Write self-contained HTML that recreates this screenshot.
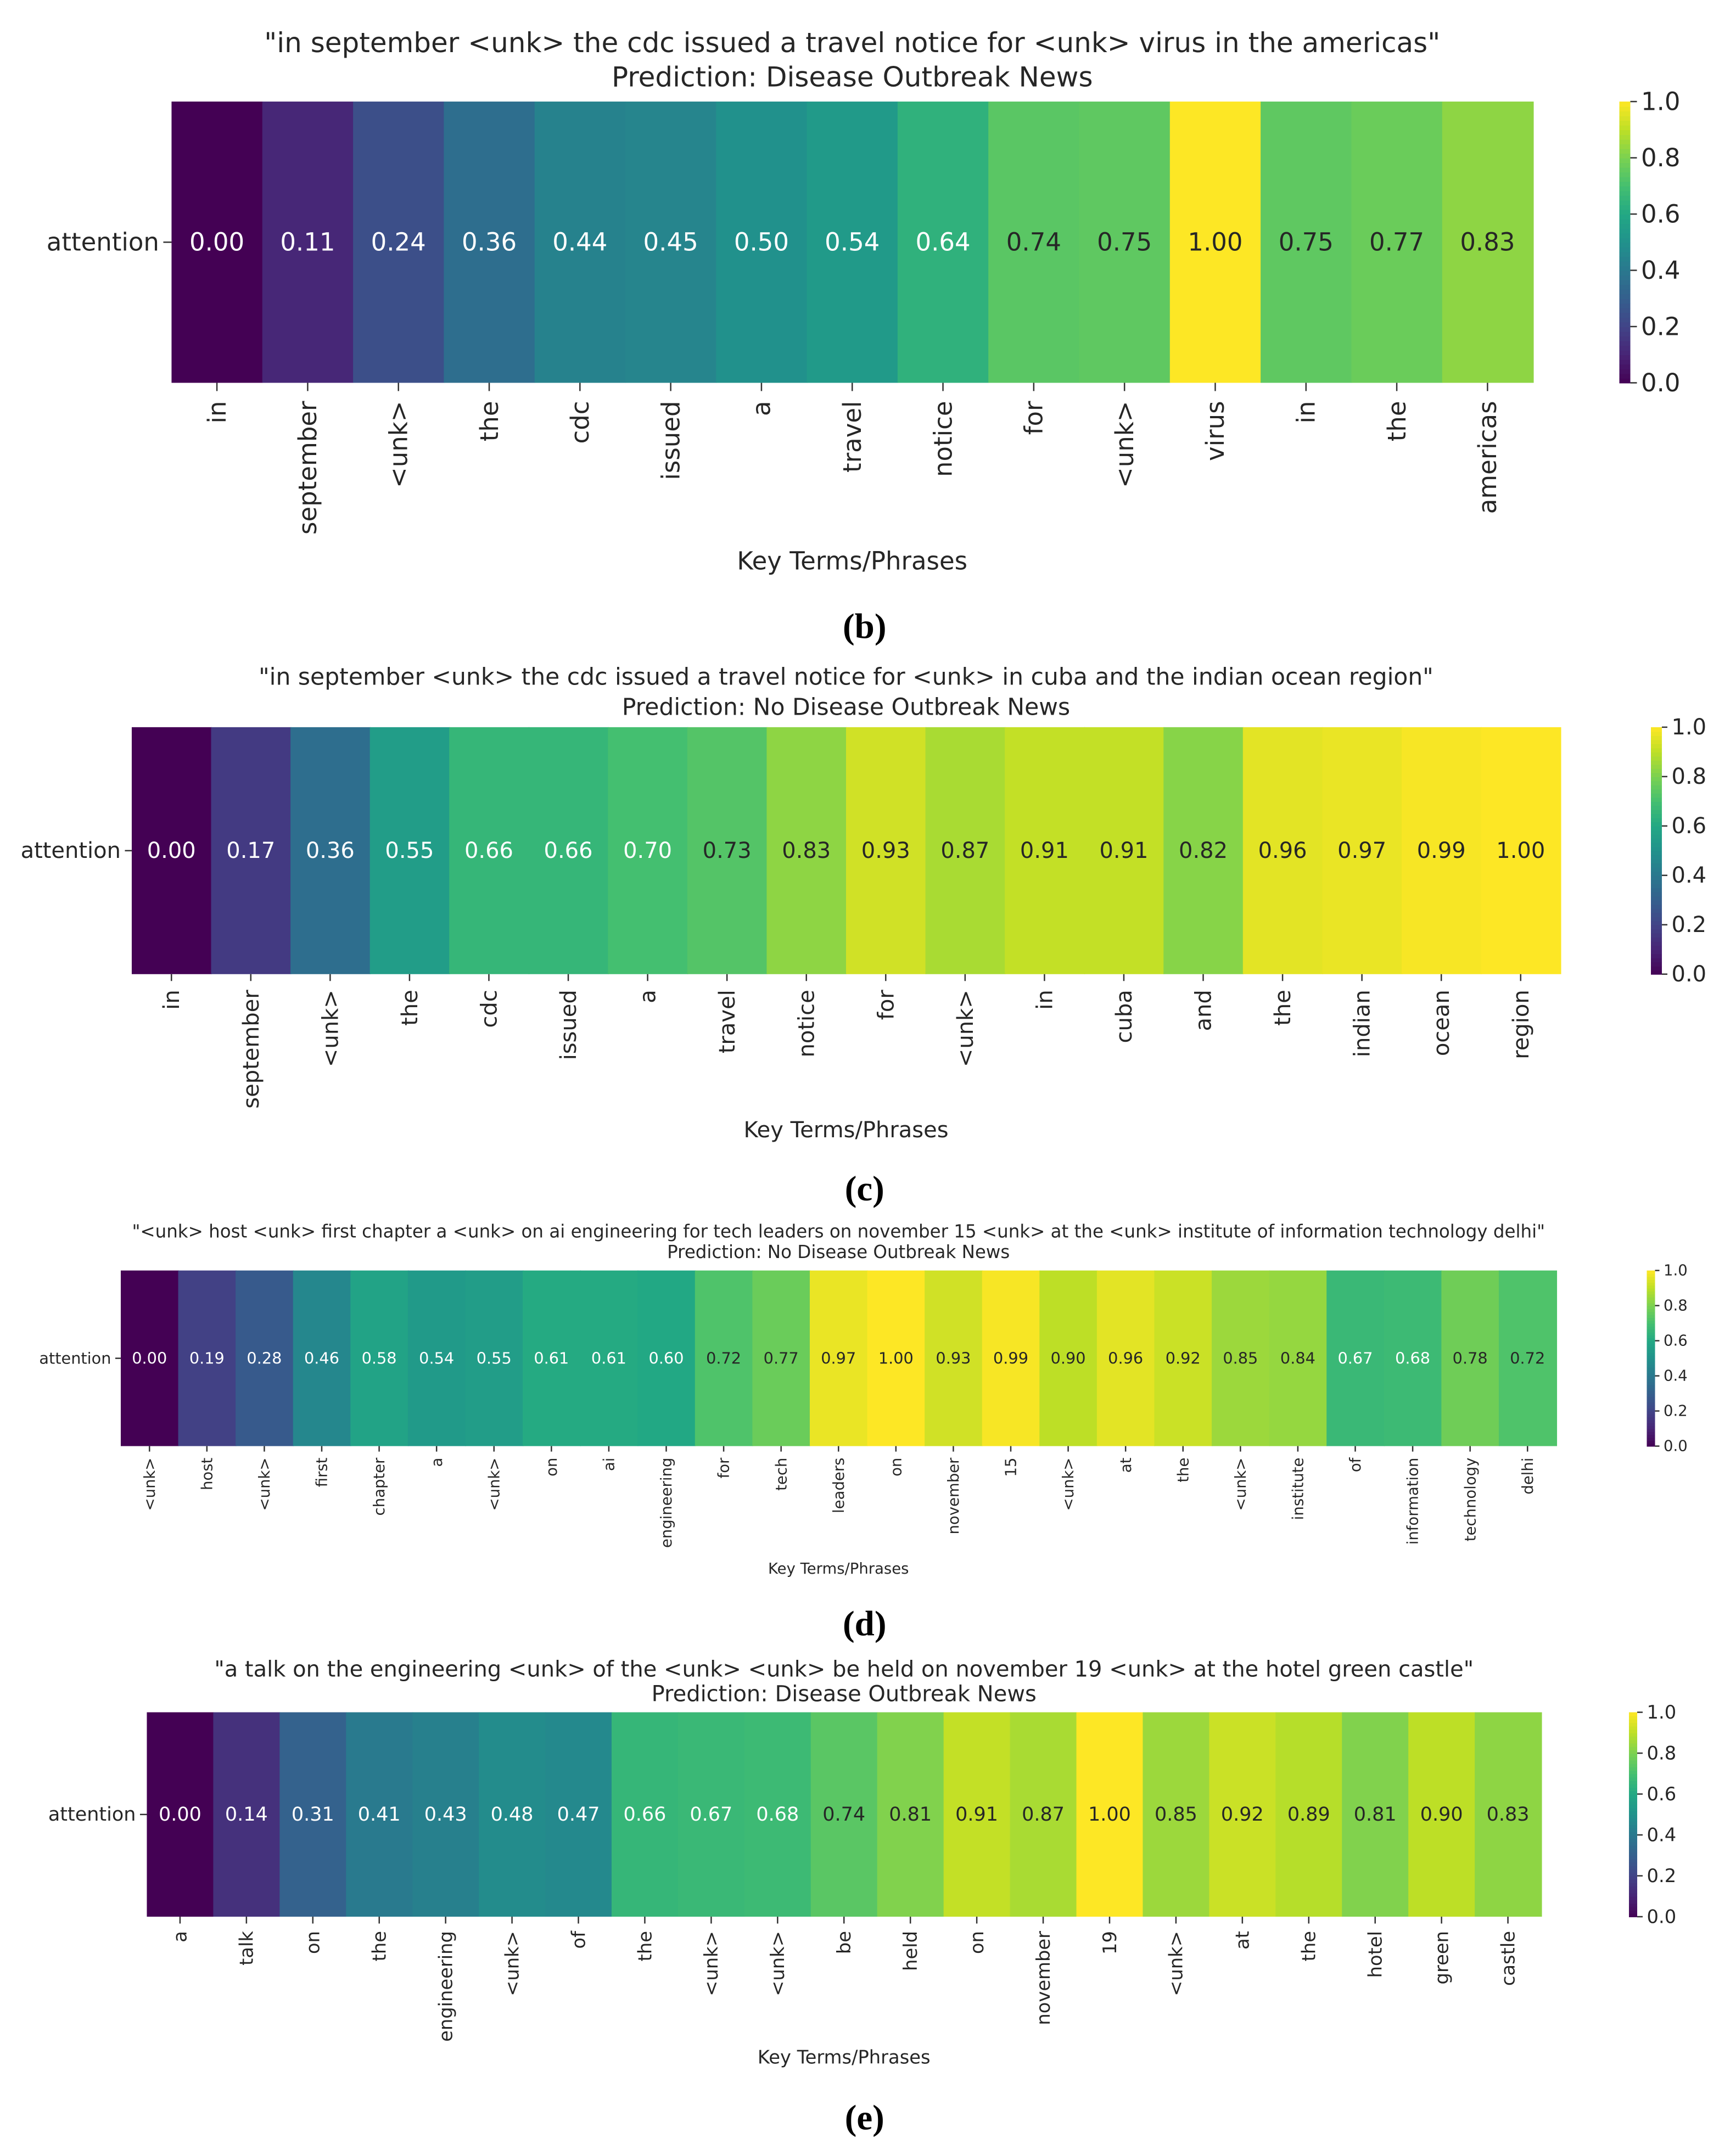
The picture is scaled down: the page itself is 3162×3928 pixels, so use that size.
<!DOCTYPE html>
<html><head><meta charset="utf-8">
<style>
html,body{margin:0;padding:0;background:#fff;}
svg{display:block;}
text{font-family:"DejaVu Sans","Liberation Sans",sans-serif;fill:#262626;}
.cap{font-family:"Liberation Serif",serif;font-weight:bold;fill:#000;}
</style></head>
<body>
<svg id="fig" width="3162" height="3928" viewBox="0 0 1265 1571.4" xmlns="http://www.w3.org/2000/svg"></svg>
<script>
const tokensB = ["in","september","<unk>","the","cdc","issued","a","travel","notice","for","<unk>","virus","in","the","americas"];
const valuesB = [0.00,0.11,0.24,0.36,0.44,0.45,0.50,0.54,0.64,0.74,0.75,1.00,0.75,0.77,0.83];
const tokensC = ["in","september","<unk>","the","cdc","issued","a","travel","notice","for","<unk>","in","cuba","and","the","indian","ocean","region"];
const valuesC = [0.00,0.17,0.36,0.55,0.66,0.66,0.70,0.73,0.83,0.93,0.87,0.91,0.91,0.82,0.96,0.97,0.99,1.00];
const tokensD = ["<unk>","host","<unk>","first","chapter","a","<unk>","on","ai","engineering","for","tech","leaders","on","november","15","<unk>","at","the","<unk>","institute","of","information","technology","delhi"];
const valuesD = [0.00,0.19,0.28,0.46,0.58,0.54,0.55,0.61,0.61,0.60,0.72,0.77,0.97,1.00,0.93,0.99,0.90,0.96,0.92,0.85,0.84,0.67,0.68,0.78,0.72];
const tokensE = ["a","talk","on","the","engineering","<unk>","of","the","<unk>","<unk>","be","held","on","november","19","<unk>","at","the","hotel","green","castle"];
const valuesE = [0.00,0.14,0.31,0.41,0.43,0.48,0.47,0.66,0.67,0.68,0.74,0.81,0.91,0.87,1.00,0.85,0.92,0.89,0.81,0.90,0.83];
const colorbarTicks = [0.0,0.2,0.4,0.6,0.8,1.0];

const NS="http://www.w3.org/2000/svg";
const svg=document.getElementById('fig');
const VIR=[[68,1,84],[72,36,117],[65,68,135],[53,95,141],[42,120,142],[33,145,140],[34,168,132],[68,191,112],[122,209,81],[189,223,38],[253,231,37]];
function viridis(v){v=Math.max(0,Math.min(1,v));const p=v*10,i=Math.min(9,Math.floor(p)),f=p-i;const a=VIR[i],b=VIR[i+1];
return 'rgb('+a.map((c,k)=>Math.round(c+(b[k]-c)*f)).join(',')+')';}
function el(tag,attrs,parent){const e=document.createElementNS(NS,tag);for(const k in attrs)e.setAttribute(k,attrs[k]);(parent||svg).appendChild(e);return e;}
function txt(s,attrs,parent){const e=el('text',attrs,parent);e.textContent=s;return e;}

function panel(cfg,tokens,values){
  const g=el('g',{});
  
  
  const n=tokens.length,w=(cfg.x1-cfg.x0)/n;
  const xs=i=>cfg.x0+i*w;
  let t=txt(cfg.title1,{x:(cfg.x0+cfg.x1)/2,y:cfg.ty1,'text-anchor':'middle','font-size':cfg.tfs},g);
  
  
  t=txt(cfg.title2,{x:(cfg.x0+cfg.x1)/2,y:cfg.ty2,'text-anchor':'middle','font-size':cfg.tfs},g);
  
  
  const ym=(cfg.y0+cfg.y1)/2;
  for(let i=0;i<n;i++){
    const r=el('rect',{x:xs(i),y:cfg.y0,width:w+0.6,height:cfg.y1-cfg.y0,fill:viridis(values[i])},g);
    
    
    const v=txt(values[i].toFixed(2),{x:xs(i)+w/2,y:ym,'text-anchor':'middle','dominant-baseline':'central','font-size':cfg.vfs,style:'fill:'+(values[i]<0.71?'#fff':'#262626')},g);
    
    
    el('line',{x1:xs(i)+w/2,x2:xs(i)+w/2,y1:cfg.y1,y2:cfg.y1+cfg.tick,stroke:'#333','stroke-width':1},g);
    const lx=xs(i)+w/2+cfg.lfs*0.35, ly=cfg.y1+cfg.tick+cfg.lfs*0.4;
    const l=txt(tokens[i],{x:lx,y:ly,'text-anchor':'end','font-size':cfg.lfs,transform:'rotate(-90 '+lx+' '+ly+')'},g);
    
    
  }
  el('line',{x1:cfg.x0-cfg.tick,x2:cfg.x0,y1:ym,y2:ym,stroke:'#333','stroke-width':1},g);
  t=txt('attention',{x:cfg.x0-cfg.tick-3,y:ym,'text-anchor':'end','dominant-baseline':'central','font-size':cfg.vfs},g);
  
  
  t=txt('Key Terms/Phrases',{x:(cfg.x0+cfg.x1)/2,y:cfg.axy,'text-anchor':'middle','font-size':cfg.afs},g);
  
  
  const cb=el('g',{},g);
  
  
  const steps=60,h=(cfg.y1-cfg.y0)/steps;
  for(let s=0;s<steps;s++){el('rect',{x:cfg.cx,y:cfg.y1-(s+1)*h,width:cfg.cw,height:h+0.4,fill:viridis((s+0.5)/steps)},cb);}
  colorbarTicks.forEach(tv=>{
    const y=cfg.y1-tv*(cfg.y1-cfg.y0);
    el('line',{x1:cfg.cx+cfg.cw,x2:cfg.cx+cfg.cw+cfg.tick*0.8,y1:y,y2:y,stroke:'#333','stroke-width':1},cb);
    const c=txt(tv.toFixed(1),{x:cfg.cx+cfg.cw+cfg.tick*0.8+3,y:y,'dominant-baseline':'central','font-size':cfg.cfs},cb);
    
    
  });
  t=txt(cfg.cap,{x:630,y:cfg.capy,'text-anchor':'middle','font-size':26,class:'cap'},g);
  
  
}

panel({name:'heatmap-panel-b',x0:125,x1:1117,y0:74,y1:279,cx:1180,cw:8,ty1:38,ty2:63,tfs:20,vfs:18,lfs:18,afs:18,cfs:18,tick:6,axy:415,capy:465,cap:'(b)',
 title1:'"in september <unk> the cdc issued a travel notice for <unk> virus in the americas"',title2:'Prediction: Disease Outbreak News'},tokensB,valuesB);
panel({name:'heatmap-panel-c',x0:96,x1:1137,y0:530,y1:710,cx:1203,cw:8,ty1:499,ty2:521,tfs:17,vfs:16,lfs:16,afs:16,cfs:16,tick:5,axy:829,capy:875,cap:'(c)',
 title1:'"in september <unk> the cdc issued a travel notice for <unk> in cuba and the indian ocean region"',title2:'Prediction: No Disease Outbreak News'},tokensC,valuesC);
panel({name:'heatmap-panel-d',x0:88,x1:1134,y0:926,y1:1054,cx:1200,cw:6,ty1:902,ty2:917,tfs:13,vfs:11.5,lfs:11,afs:11,cfs:11,tick:4,axy:1147,capy:1192,cap:'(d)',
 title1:'"<unk> host <unk> first chapter a <unk> on ai engineering for tech leaders on november 15 <unk> at the <unk> institute of information technology delhi"',title2:'Prediction: No Disease Outbreak News'},tokensD,valuesD);
panel({name:'heatmap-panel-e',x0:107,x1:1123,y0:1248,y1:1397,cx:1187,cw:6,ty1:1222,ty2:1240,tfs:16,vfs:14,lfs:13.5,afs:13.5,cfs:13.5,tick:5,axy:1504,capy:1552,cap:'(e)',
 title1:'"a talk on the engineering <unk> of the <unk> <unk> be held on november 19 <unk> at the hotel green castle"',title2:'Prediction: Disease Outbreak News'},tokensE,valuesE);
</script>
</body></html>
